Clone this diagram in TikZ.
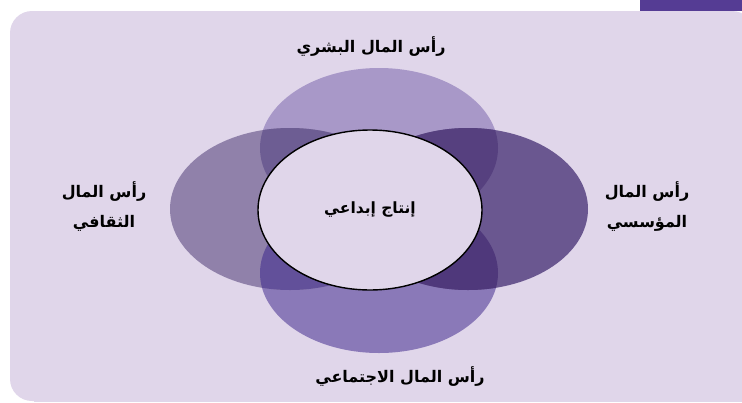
\documentclass[tikz,border=0pt]{standalone}
\usepackage{fontspec}
\usepackage{tikz}
\usetikzlibrary{shapes.geometric,positioning}
\TeXXeTstate=1
\newfontfamily\arabicfont[Script=Arabic]{DejaVu Sans}
\definecolor{capPanel}{HTML}{E0D6EA}
\definecolor{capTab}{HTML}{553C94}
\definecolor{capHuman}{HTML}{A898C8}
\definecolor{capCulture}{HTML}{9081AA}
\definecolor{capInst}{HTML}{6A5790}
\definecolor{capSocial}{HTML}{8A79B8}
\definecolor{capHC}{HTML}{6D5D93}
\definecolor{capHI}{HTML}{56407F}
\definecolor{capSC}{HTML}{62509A}
\definecolor{capSI}{HTML}{4F387B}
\tikzset{
  petal/.style={ellipse, draw=none, minimum width=238pt, minimum height=160pt, inner sep=0pt},
  core/.style={ellipse, draw=black, line width=1.4pt, fill=capPanel,
    minimum width=224pt, minimum height=160pt, inner sep=0pt,
    font=\arabicfont\bfseries\fontsize{15.5}{18}\selectfont},
  caplabel/.style={font=\arabicfont\bfseries\fontsize{16}{30}\selectfont, align=center, inner sep=1pt}
}

\begin{document}
\begin{tikzpicture}[x=1pt, y=-1pt]
  \useasboundingbox (0,0) rectangle (742,402);
  % panel and tab
  \fill[capPanel, rounded corners=22pt] (10,11) rectangle (754,401);
  \fill[capPanel] (34,380) rectangle (742,402);
  \fill[capTab] (640,0) rectangle (742,11);
  % four capitals
  \node[petal, fill=capHuman] (human) at (379,148) {};
  \node[petal, fill=capSocial] (social) at (379,273) {};
  \node[petal, fill=capCulture, minimum width=240pt, minimum height=162pt] (culture) at (290,209) {};
  \node[petal, fill=capInst, minimum width=240pt, minimum height=162pt] (inst) at (468,209) {};
  % overlaps
  \begin{scope}
    \clip (human.center) ellipse [x radius=119pt, y radius=80pt];
    \fill[capHC] (culture.center) ellipse [x radius=120pt, y radius=81pt];
    \fill[capHI] (inst.center) ellipse [x radius=120pt, y radius=81pt];
  \end{scope}
  \begin{scope}
    \clip (social.center) ellipse [x radius=119pt, y radius=80pt];
    \fill[capSC] (culture.center) ellipse [x radius=120pt, y radius=81pt];
    \fill[capSI] (inst.center) ellipse [x radius=120pt, y radius=81pt];
  \end{scope}
  % centre
  \node[core] (prod) at (370,210) {\beginR إنتاج إبداعي\endR};
  % labels
  \node[caplabel] (humanlbl) at (371,47) {\beginR رأس المال البشري\endR};
  \node[caplabel] (sociallbl) at (400,377) {\beginR رأس المال الاجتماعي\endR};
  \node[caplabel] (culturelbl) at (104,207) {\beginR رأس المال\endR\\\beginR الثقافي\endR};
  \node[caplabel] (instlbl) at (647,207) {\beginR رأس المال\endR\\\beginR المؤسسي\endR};
\end{tikzpicture}
\end{document}
